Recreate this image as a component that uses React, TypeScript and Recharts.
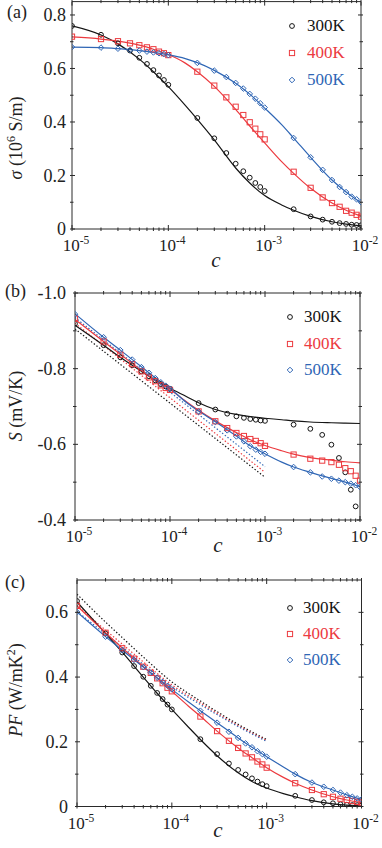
import React from "react";
import { ComposedChart, Line, Scatter, XAxis, YAxis, Legend } from "recharts";

const FONT = "'Liberation Serif', 'DejaVu Serif', 'Noto Serif', 'Times New Roman', serif";
const FRAME = "#2a2a2a";
const BLACK = "#151515";
const RED = "#ec3a3f";
const BLUE = "#2f66b5";

// temperatures, in legend order
const temperatures = ["300K", "400K", "500K"];
const markerKinds = ["circle", "square", "diamond"];
const tempColors = [BLACK, RED, BLUE];

// concentrations of the computed points
const cPoints = [
  1e-5, 2e-5, 3e-5, 4e-5, 5e-5, 6e-5, 7e-5, 8e-5, 9e-5,
  1e-4, 2e-4, 3e-4, 4e-4, 5e-4, 6e-4, 7e-4, 8e-4, 9e-4,
  1e-3, 2e-3, 3e-3, 4e-3, 5e-3, 6e-3, 7e-3, 8e-3, 9e-3, 1e-2,
];
// concentrations where the solid (fit) curves were read
const cFit = [
  1e-5, 2e-5, 3e-5, 5e-5, 7e-5, 1e-4, 1.5e-4, 2e-4, 3e-4,
  5e-4, 7e-4, 1e-3, 1.5e-3, 2e-3, 3e-3, 5e-3, 7e-3, 1e-2,
];
// dotted limit lines
const cLimitS = [1e-5, 1e-3];
const cLimitPF = [1e-5, 2e-5, 3e-5, 5e-5, 1e-4, 2e-4, 3e-4, 5e-4, 1e-3];

// log axis ticks (decades get a label)
const xTicks = [
  1e-5, 2e-5, 3e-5, 4e-5, 5e-5, 6e-5, 7e-5, 8e-5, 9e-5,
  1e-4, 2e-4, 3e-4, 4e-4, 5e-4, 6e-4, 7e-4, 8e-4, 9e-4,
  1e-3, 2e-3, 3e-3, 4e-3, 5e-3, 6e-3, 7e-3, 8e-3, 9e-3, 1e-2,
];

// (a) conductivity, 10^6 S/m
const sigma300 = [0.759, 0.726, 0.694, 0.667, 0.64, 0.617, 0.594, 0.574, 0.557, 0.539, 0.415, 0.339, 0.284, 0.244, 0.216, 0.192, 0.172, 0.157, 0.142, 0.074, 0.047, 0.035, 0.027, 0.022, 0.019, 0.016, 0.015, 0.014];
const sigma400 = [0.719, 0.71, 0.702, 0.694, 0.687, 0.679, 0.672, 0.663, 0.657, 0.65, 0.588, 0.536, 0.492, 0.457, 0.426, 0.399, 0.375, 0.354, 0.335, 0.214, 0.154, 0.118, 0.097, 0.083, 0.068, 0.061, 0.053, 0.046];
const sigma500 = [0.68, 0.678, 0.674, 0.669, 0.667, 0.663, 0.66, 0.657, 0.654, 0.65, 0.621, 0.592, 0.568, 0.546, 0.525, 0.505, 0.487, 0.47, 0.454, 0.34, 0.268, 0.221, 0.183, 0.157, 0.138, 0.121, 0.111, 0.1];
const sigmaFit300 = [0.759, 0.725, 0.692, 0.635, 0.588, 0.532, 0.462, 0.41, 0.333, 0.228, 0.172, 0.125, 0.09, 0.07, 0.047, 0.027, 0.018, 0.012];
const sigmaFit400 = [0.718, 0.71, 0.702, 0.687, 0.672, 0.652, 0.62, 0.588, 0.533, 0.447, 0.385, 0.322, 0.252, 0.208, 0.152, 0.097, 0.07, 0.048];
const sigmaFit500 = [0.68, 0.678, 0.674, 0.667, 0.66, 0.651, 0.637, 0.622, 0.593, 0.545, 0.504, 0.452, 0.39, 0.34, 0.268, 0.183, 0.138, 0.098];

// (b) Seebeck coefficient, mV/K
const seebeck300 = [-0.919, -0.862, -0.83, -0.809, -0.793, -0.78, -0.769, -0.759, -0.753, -0.747, -0.709, -0.692, -0.681, -0.674, -0.67, -0.667, -0.665, -0.663, -0.662, -0.652, -0.641, -0.625, -0.599, -0.564, -0.526, -0.48, -0.436, null];
const seebeck400 = [-0.932, -0.872, -0.837, -0.812, -0.793, -0.777, -0.767, -0.756, -0.749, -0.744, -0.687, -0.661, -0.643, -0.63, -0.622, -0.614, -0.609, -0.603, -0.596, -0.573, -0.562, -0.557, -0.553, -0.546, -0.537, -0.529, -0.517, -0.504];
const seebeck500 = [-0.944, -0.883, -0.849, -0.824, -0.804, -0.789, -0.775, -0.764, -0.755, -0.747, -0.687, -0.659, -0.637, -0.621, -0.608, -0.595, -0.586, -0.58, -0.575, -0.54, -0.526, -0.515, -0.509, -0.504, -0.5, -0.496, -0.492, -0.487];
const seebeckFit300 = [-0.915, -0.862, -0.83, -0.793, -0.77, -0.748, -0.726, -0.71, -0.692, -0.679, -0.673, -0.669, -0.665, -0.662, -0.659, -0.657, -0.656, -0.655];
const seebeckFit400 = [-0.93, -0.872, -0.838, -0.795, -0.768, -0.745, -0.712, -0.69, -0.662, -0.631, -0.612, -0.597, -0.583, -0.574, -0.565, -0.558, -0.554, -0.551];
const seebeckFit500 = [-0.945, -0.883, -0.849, -0.805, -0.776, -0.748, -0.71, -0.688, -0.66, -0.622, -0.596, -0.575, -0.553, -0.54, -0.526, -0.51, -0.5, -0.488];
const seebeckLim300 = [-0.905, -0.513];
const seebeckLim400 = [-0.92, -0.526];
const seebeckLim500 = [-0.935, -0.541];

// (c) power factor, W/mK^2
const pf300 = [0.635, 0.535, 0.476, 0.434, 0.401, 0.373, 0.351, 0.332, 0.315, 0.3, 0.208, 0.162, 0.133, 0.113, 0.099, 0.087, 0.077, 0.069, 0.063, 0.033, 0.02, 0.013, 0.01, 0.007, 0.0055, 0.0045, 0.004, 0.003];
const pf400 = [0.62, 0.537, 0.489, 0.457, 0.432, 0.413, 0.396, 0.381, 0.367, 0.356, 0.278, 0.233, 0.203, 0.181, 0.164, 0.152, 0.139, 0.13, 0.12, 0.072, 0.051, 0.038, 0.03, 0.024, 0.02, 0.017, 0.014, 0.012];
const pf500 = [0.601, 0.525, 0.483, 0.453, 0.431, 0.414, 0.398, 0.385, 0.373, 0.362, 0.296, 0.259, 0.231, 0.212, 0.195, 0.183, 0.171, 0.162, 0.154, 0.1, 0.074, 0.061, 0.051, 0.043, 0.035, 0.03, 0.025, 0.022];
const pfFit300 = [0.632, 0.535, 0.477, 0.4, 0.35, 0.3, 0.245, 0.207, 0.157, 0.104, 0.077, 0.057, 0.04, 0.03, 0.018, 0.008, 0.004, 0.002];
const pfFit400 = [0.62, 0.537, 0.49, 0.433, 0.396, 0.356, 0.31, 0.279, 0.233, 0.181, 0.151, 0.12, 0.09, 0.072, 0.051, 0.03, 0.02, 0.012];
const pfFit500 = [0.601, 0.525, 0.483, 0.431, 0.398, 0.362, 0.323, 0.296, 0.259, 0.212, 0.183, 0.154, 0.122, 0.1, 0.074, 0.051, 0.036, 0.022];
const pfLim300 = [0.656, 0.57, 0.522, 0.462, 0.385, 0.326, 0.293, 0.254, 0.207];
const pfLim400 = [0.622, 0.545, 0.502, 0.447, 0.376, 0.32, 0.288, 0.25, 0.204];
const pfLim500 = [0.603, 0.533, 0.493, 0.439, 0.37, 0.315, 0.284, 0.247, 0.201];

// y ticks
const sigmaTicks = [0, 0.1, 0.2, 0.3, 0.4, 0.5, 0.6, 0.7, 0.8];
const sigmaLabels = [0, 0.2, 0.4, 0.6, 0.8];
const seebeckTicks = [-1.0, -0.9, -0.8, -0.7, -0.6, -0.5, -0.4];
const seebeckLabels = [-1.0, -0.8, -0.6, -0.4];
const pfTicks = [0, 0.1, 0.2, 0.3, 0.4, 0.5, 0.6];
const pfLabels = [0, 0.2, 0.4, 0.6];

const rows = (cs: number[], vs: (number | null)[]) =>
  cs.map((c, i) => ({ c, v: vs[i] })).filter((r) => r.v !== null && r.v !== undefined);

const near = (a: number, b: number) => Math.abs(a - b) < 1e-6;
const isDecade = (v: number) => near(Math.log10(v), Math.round(Math.log10(v)));

const Marker = ({ kind, cx, cy, color }: any) => {
  if (cx == null || cy == null) return null;
  if (kind === "circle")
    return <circle cx={cx} cy={cy} r={2.4} fill="none" stroke={color} strokeWidth={1} />;
  if (kind === "square")
    return <rect x={cx - 2.6} y={cy - 2.6} width={5.2} height={5.2} fill="none" stroke={color} strokeWidth={1} />;
  const d = 2.8;
  return (
    <polygon
      points={`${cx},${cy - d} ${cx + d},${cy} ${cx},${cy + d} ${cx - d},${cy}`}
      fill="none"
      stroke={color}
      strokeWidth={1}
    />
  );
};

const bottomTick = (props: any) => {
  const { x, y, payload } = props;
  const v = payload.value;
  const major = isDecade(v);
  const exp = Math.round(Math.log10(v));
  return (
    <g>
      <line x1={x} y1={y} x2={x} y2={y - (major ? 6 : 3.5)} stroke={FRAME} />
      {major && (
        <text x={x + 4} y={y + 20} textAnchor="middle" fontFamily={FONT} fontSize={17} fill="#222">
          10
          <tspan dy={-7} fontSize={11.5}>{`-${Math.abs(exp)}`}</tspan>
        </text>
      )}
    </g>
  );
};

const topTick = (props: any) => {
  const { x, y, payload } = props;
  const major = isDecade(payload.value);
  return <line x1={x} y1={y} x2={x} y2={y + (major ? 6 : 3.5)} stroke={FRAME} />;
};

const makeLeftTick = (labels: number[], gap: number) => (props: any) => {
  const { x, y, payload } = props;
  const v = payload.value;
  const major = labels.some((l) => near(l, v));
  return (
    <g>
      <line x1={x} y1={y} x2={x + (major ? 5 : 3.5)} y2={y} stroke={FRAME} />
      {major && (
        <text x={x - gap} y={y} dy="0.34em" textAnchor="end" fontFamily={FONT} fontSize={18} fill="#222">
          {near(v, 0) ? "0" : v.toFixed(1)}
        </text>
      )}
    </g>
  );
};

const makeRightTick = (labels: number[]) => (props: any) => {
  const { x, y, payload } = props;
  const major = labels.some((l) => near(l, payload.value));
  return <line x1={x} y1={y} x2={x - (major ? 5 : 3.5)} y2={y} stroke={FRAME} />;
};

const makeLegend = (rowH: number, gap: number) => () => (
  <div style={{ fontFamily: FONT, fontSize: 17 }}>
    {temperatures.map((t, i) => (
      <div key={t} style={{ height: rowH, display: "flex", alignItems: "center" }}>
        <svg width={10} height={10} style={{ overflow: "visible" }}>
          <Marker kind={markerKinds[i]} cx={5} cy={5} color={tempColors[i]} />
        </svg>
        <span style={{ marginLeft: gap, color: tempColors[i] }}>{t}</span>
      </div>
    ))}
  </div>
);

const Panel = ({ top, height, margin, yDomain, reversed, yTicks, yLabels, gap, points, fits, limits, cLimit, legend }: any) => (
  <div style={{ position: "absolute", left: 0, top }}>
    <ComposedChart width={382} height={height} margin={margin}>
      <XAxis
        xAxisId="b"
        dataKey="c"
        type="number"
        scale="log"
        domain={[1e-5, 1e-2]}
        allowDataOverflow
        ticks={xTicks}
        interval={0}
        tick={bottomTick}
        tickLine={false}
        tickSize={0}
        height={1}
        axisLine={{ stroke: FRAME }}
      />
      <XAxis
        xAxisId="t"
        orientation="top"
        dataKey="c"
        type="number"
        scale="log"
        domain={[1e-5, 1e-2]}
        allowDataOverflow
        ticks={xTicks}
        interval={0}
        tick={topTick}
        tickLine={false}
        tickSize={0}
        height={1}
        axisLine={{ stroke: FRAME }}
      />
      <YAxis
        yAxisId="l"
        dataKey="v"
        type="number"
        domain={yDomain}
        reversed={reversed}
        allowDataOverflow
        ticks={yTicks}
        interval={0}
        tick={makeLeftTick(yLabels, gap)}
        tickLine={false}
        tickSize={0}
        width={1}
        axisLine={{ stroke: FRAME }}
      />
      <YAxis
        yAxisId="r"
        orientation="right"
        type="number"
        domain={yDomain}
        reversed={reversed}
        allowDataOverflow
        ticks={yTicks}
        interval={0}
        tick={makeRightTick(yLabels)}
        tickLine={false}
        tickSize={0}
        width={1}
        axisLine={{ stroke: FRAME }}
      />
      {limits.map((vals: number[], i: number) => (
        <Line
          key={`lim${i}`}
          xAxisId="b"
          yAxisId="l"
          data={rows(cLimit, vals)}
          dataKey="v"
          type="monotone"
          stroke={tempColors[i]}
          strokeWidth={1.2}
          strokeDasharray="1.4 2"
          dot={false}
          legendType="none"
          isAnimationActive={false}
        />
      ))}
      {fits.map((vals: number[], i: number) => (
        <Line
          key={`fit${i}`}
          xAxisId="b"
          yAxisId="l"
          data={rows(cFit, vals)}
          dataKey="v"
          type="monotone"
          stroke={tempColors[i]}
          strokeWidth={1.2}
          dot={false}
          legendType="none"
          isAnimationActive={false}
        />
      ))}
      {points.map((vals: (number | null)[], i: number) => (
        <Scatter
          key={`pts${i}`}
          name={temperatures[i]}
          xAxisId="b"
          yAxisId="l"
          data={rows(cPoints, vals)}
          dataKey="v"
          shape={(p: any) => <Marker kind={markerKinds[i]} cx={p.cx} cy={p.cy} color={tempColors[i]} />}
          isAnimationActive={false}
        />
      ))}
      <Legend
        layout="vertical"
        align="center"
        verticalAlign="middle"
        content={makeLegend(legend.rowH, legend.gap)}
        wrapperStyle={{ left: legend.left, top: legend.top, width: 90, height: legend.rowH * 3 }}
      />
    </ComposedChart>
  </div>
);

const txt = { fontFamily: FONT, fill: "#222" };

export default function App() {
  return (
    <div style={{ position: "absolute", left: 0, top: 0, width: 382, height: 848, background: "#fff" }}>
      <Panel
        top={0}
        height={275}
        margin={{ top: 0.6, right: 20, bottom: 45, left: 71 }}
        yDomain={[0, 0.85]}
        yTicks={sigmaTicks}
        yLabels={sigmaLabels}
        gap={4}
        points={[sigma300, sigma400, sigma500]}
        fits={[sigmaFit300, sigmaFit400, sigmaFit500]}
        limits={[]}
        cLimit={cLimitS}
        legend={{ left: 287, top: 12.5, rowH: 27, gap: 10 }}
      />
      <Panel
        top={280}
        height={285}
        margin={{ top: 12, right: 21, bottom: 44, left: 74 }}
        yDomain={[-1.0, -0.4]}
        reversed
        yTicks={seebeckTicks}
        yLabels={seebeckLabels}
        gap={7}
        points={[seebeck300, seebeck400, seebeck500]}
        fits={[seebeckFit300, seebeckFit400, seebeckFit500]}
        limits={[seebeckLim300, seebeckLim400, seebeckLim500]}
        cLimit={cLimitS}
        legend={{ left: 285, top: 23.75, rowH: 26.5, gap: 9 }}
      />
      <Panel
        top={565}
        height={283}
        margin={{ top: 14, right: 19.5, bottom: 40.5, left: 76 }}
        yDomain={[0, 0.7]}
        yTicks={pfTicks}
        yLabels={pfLabels}
        gap={7}
        points={[pf300, pf400, pf500]}
        fits={[pfFit300, pfFit400, pfFit500]}
        limits={[pfLim300, pfLim400, pfLim500]}
        cLimit={cLimitPF}
        legend={{ left: 285, top: 30, rowH: 26, gap: 8 }}
      />
      <svg width={382} height={848} style={{ position: "absolute", left: 0, top: 0, pointerEvents: "none" }}>
        <text x={7} y={18} fontSize={18} {...txt}>(a)</text>
        <text x={5} y={297} fontSize={18} {...txt}>(b)</text>
        <text x={5} y={588} fontSize={18} {...txt}>(c)</text>

        <text transform="translate(22,138) rotate(-90)" textAnchor="middle" fontSize={18} {...txt}>
          <tspan fontStyle="italic">σ</tspan> (10<tspan dy={-7} fontSize={12}>6</tspan>
          <tspan dy={7}> S/m)</tspan>
        </text>
        <text transform="translate(22,406) rotate(-90)" textAnchor="middle" fontSize={18} {...txt}>
          <tspan fontStyle="italic">S</tspan> (mV/K)
        </text>
        <text transform="translate(22,690) rotate(-90)" textAnchor="middle" fontSize={18} {...txt}>
          <tspan fontStyle="italic">PF</tspan> (W/mK<tspan dy={-7} fontSize={12}>2</tspan>
          <tspan dy={7}>)</tspan>
        </text>

        <text x={216} y={267} textAnchor="middle" fontSize={21} fontStyle="italic" {...txt}>c</text>
        <text x={218} y={552} textAnchor="middle" fontSize={21} fontStyle="italic" {...txt}>c</text>
        <text x={218} y={837} textAnchor="middle" fontSize={21} fontStyle="italic" {...txt}>c</text>
      </svg>
    </div>
  );
}
